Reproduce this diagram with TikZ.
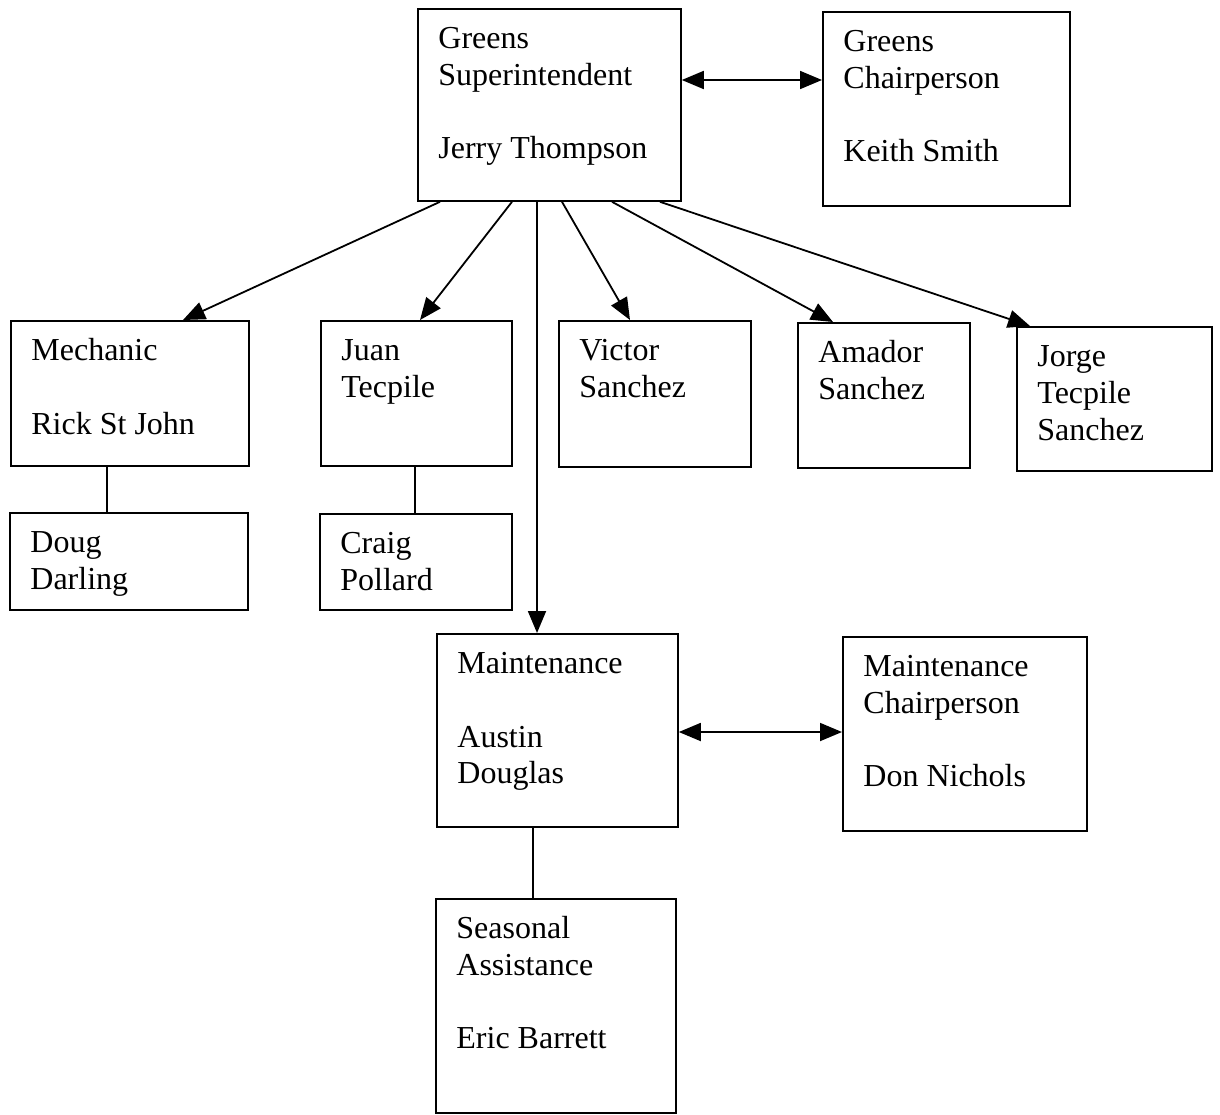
\documentclass[tikz,border=0pt]{standalone}
\usepackage{fontspec}
\setmainfont{Liberation Serif}
\usetikzlibrary{arrows.meta,calc}
\newcommand\mybox[6]{%
  \node[box, minimum width={(#4-#2)*0.5pt}, minimum height={(#5-#3)*0.5pt}] (#1) at (#2,#3) {};
  \node[txt] (#1-t) at ($(#1.north west)+(21,16)$) {\rule{0pt}{12pt}#6};
}
\begin{document}
\begin{tikzpicture}[x=0.5pt,y=-0.5pt,
  box/.style={draw, line width=0.9pt, inner sep=0pt, anchor=north west},
  txt/.style={anchor=north west, inner sep=0pt, align=left, font=\fontsize{16}{18.4}\selectfont},
  conn/.style={line width=0.9pt},
  arr/.style={conn, -{Triangle[length=11pt,width=9pt]}},
  dbl/.style={conn, {Triangle[length=11pt,width=9pt]}-{Triangle[length=11pt,width=9pt]}}]
\useasboundingbox (0,0) rectangle (1220,1114);

\mybox{gs}{417}{8}{680}{200}{Greens\\Superintendent\\[18.4pt]Jerry Thompson}
\mybox{gc}{822}{11}{1069}{205}{Greens\\Chairperson\\[18.4pt]Keith Smith}
\mybox{mech}{10}{320}{248}{465}{Mechanic\\[18.4pt]Rick St John}
\mybox{juan}{320}{320}{511}{465}{Juan\\Tecpile}
\mybox{victor}{558}{320}{750}{466}{Victor\\Sanchez}
\mybox{amador}{797}{322}{969}{467}{Amador\\Sanchez}
\mybox{jorge}{1016}{326}{1211}{470}{Jorge\\Tecpile\\Sanchez}
\mybox{doug}{9}{512}{247}{609}{Doug\\Darling}
\mybox{craig}{319}{513}{511}{609}{Craig\\Pollard}
\mybox{maint}{436}{633}{677}{826}{Maintenance\\[18.4pt]Austin\\Douglas}
\mybox{mchair}{842}{636}{1086}{830}{Maintenance\\Chairperson\\[18.4pt]Don Nichols}
\mybox{seas}{435}{898}{675}{1112}{Seasonal\\Assistance\\[18.4pt]Eric Barrett}

\draw[dbl] ($(gs.north east)+(0,72)$) -- ($(gc.north west)+(0,69)$);
\draw[arr] ($(gs.south west)+(23,0)$) -- ($(mech.north west)+(173,0)$);
\draw[arr] ($(gs.south west)+(95,0)$) -- ($(juan.north west)+(100,0)$);
\draw[arr] ($(gs.south west)+(120,0)$) -- ($(maint.north west)+(101,0)$);
\draw[arr] ($(gs.south west)+(145,0)$) -- ($(victor.north west)+(72,0)$);
\draw[arr] ($(gs.south west)+(195,0)$) -- ($(amador.north west)+(36,0)$);
\draw[arr] ($(gs.south west)+(243,0)$) -- ($(jorge.north west)+(14,0)$);
\draw[conn] ($(mech.south west)+(97,0)$) -- ($(doug.north west)+(98,0)$);
\draw[conn] ($(juan.south west)+(95,0)$) -- ($(craig.north west)+(96,0)$);
\draw[dbl] ($(maint.north east)+(0,99)$) -- ($(mchair.north west)+(0,96)$);
\draw[conn] ($(maint.south west)+(97,0)$) -- ($(seas.north west)+(98,0)$);
\end{tikzpicture}
\end{document}
